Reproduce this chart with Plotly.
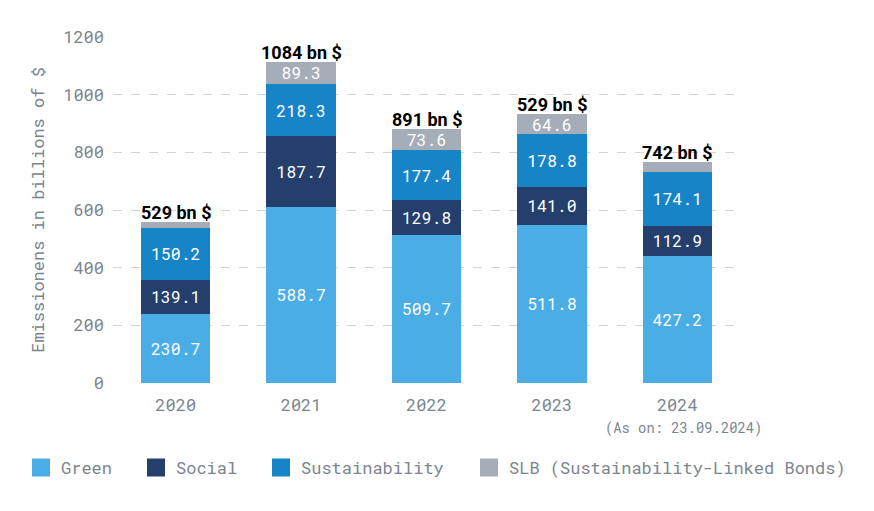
import plotly.graph_objects as go

# 数据（柱高按图中量出，标签按图中文字）
years = ["2020", "2021", "2022", "2023", "2024"]
green = [239, 612, 514, 549, 441]
social = [119, 245, 119, 132, 104]
sustainability = [179, 179, 174, 183, 188]
slb = [23, 79, 75, 68, 32]

green_labels = ["230.7", "588.7", "509.7", "511.8", "427.2"]
social_labels = ["139.1", "187.7", "129.8", "141.0", "112.9"]
sustainability_labels = ["150.2", "218.3", "177.4", "178.8", "174.1"]
slb_labels = ["", "89.3", "73.6", "64.6", ""]
total_labels = ["529", "1084", "891", "529", "742"]

series_names = ["Green", "Social", "Sustainability", "SLB (Sustainability-Linked Bonds)"]
series_values = [green, social, sustainability, slb]
series_labels = [green_labels, social_labels, sustainability_labels, slb_labels]
colors = ["#4bade5", "#243f6b", "#1784c7", "#a5aeb8"]

mono = "Roboto Mono, DejaVu Sans Mono, monospace"
grey = "#7b858f"

fig = go.Figure()

for name, vals, labs, col in zip(series_names, series_values, series_labels, colors):
    fig.add_trace(go.Bar(
        x=years, y=vals, name=name, showlegend=False,
        marker=dict(color=col, line=dict(width=0)),
        text=labs, textposition="inside", insidetextanchor="middle", constraintext="none",
        textfont=dict(family=mono, size=16.5, color="white"),
    ))

# 图例：每个系列一个图例，方块大一点
legend_x = [13, 128, 253, 461]  # 像素位置
legend_ids = ["legend", "legend2", "legend3", "legend4"]
for name, col, lid in zip(series_names, colors, legend_ids):
    fig.add_trace(go.Scatter(x=[None], y=[None], mode="markers", name=name, legend=lid,
                             marker=dict(symbol="square", size=16, color=col,
                                         line=dict(width=2, color=col))))
for lid, px in zip(legend_ids, legend_x):
    fig.update_layout({lid: dict(orientation="h", xref="container", x=px / 874, xanchor="left",
                                 yref="container", y=0.0998, yanchor="middle",
                                 font=dict(family=mono, size=17, color=grey))})

# 堆叠总数标签
tops = [sum(v) for v in zip(green, social, sustainability, slb)]
for i, (top, lab) in enumerate(zip(tops, total_labels)):
    fig.add_annotation(x=i, y=top, text=f"<b>{lab} bn $</b>", showarrow=False,
                       yanchor="bottom", yshift=-3,
                       font=dict(family="Roboto, DejaVu Sans, sans-serif", size=18, color="black"))

fig.add_annotation(x=len(years) - 1, y=-0.13, xref="x", yref="paper", text="(As on: 23.09.2024)",
                   showarrow=False, yanchor="middle", xshift=6,
                   font=dict(family=mono, size=13.8, color=grey))

fig.update_layout(
    width=874, height=511,
    barmode="stack", bargap=0.447,
    plot_bgcolor="white", paper_bgcolor="white",
    margin=dict(l=105, r=142, t=29, b=136, autoexpand=False),
    font=dict(family=mono, color=grey),
)
fig.update_xaxes(type="category", range=[-0.5, 4.5], showgrid=False, showline=False, ticks="",
                 tickfont=dict(family=mono, size=17, color=grey), ticklabelstandoff=10)
fig.update_yaxes(range=[0, 1200], dtick=200, showgrid=True, gridcolor="#d3d3d3",
                 griddash="dash", gridwidth=1, zeroline=False, showline=False,
                 tickfont=dict(family=mono, size=17, color=grey), ticklabelstandoff=8,
                 title=dict(text="Emissionens in billions of $", standoff=14,
                            font=dict(family=mono, size=17, color=grey)))

fig.write_html("out.html")
